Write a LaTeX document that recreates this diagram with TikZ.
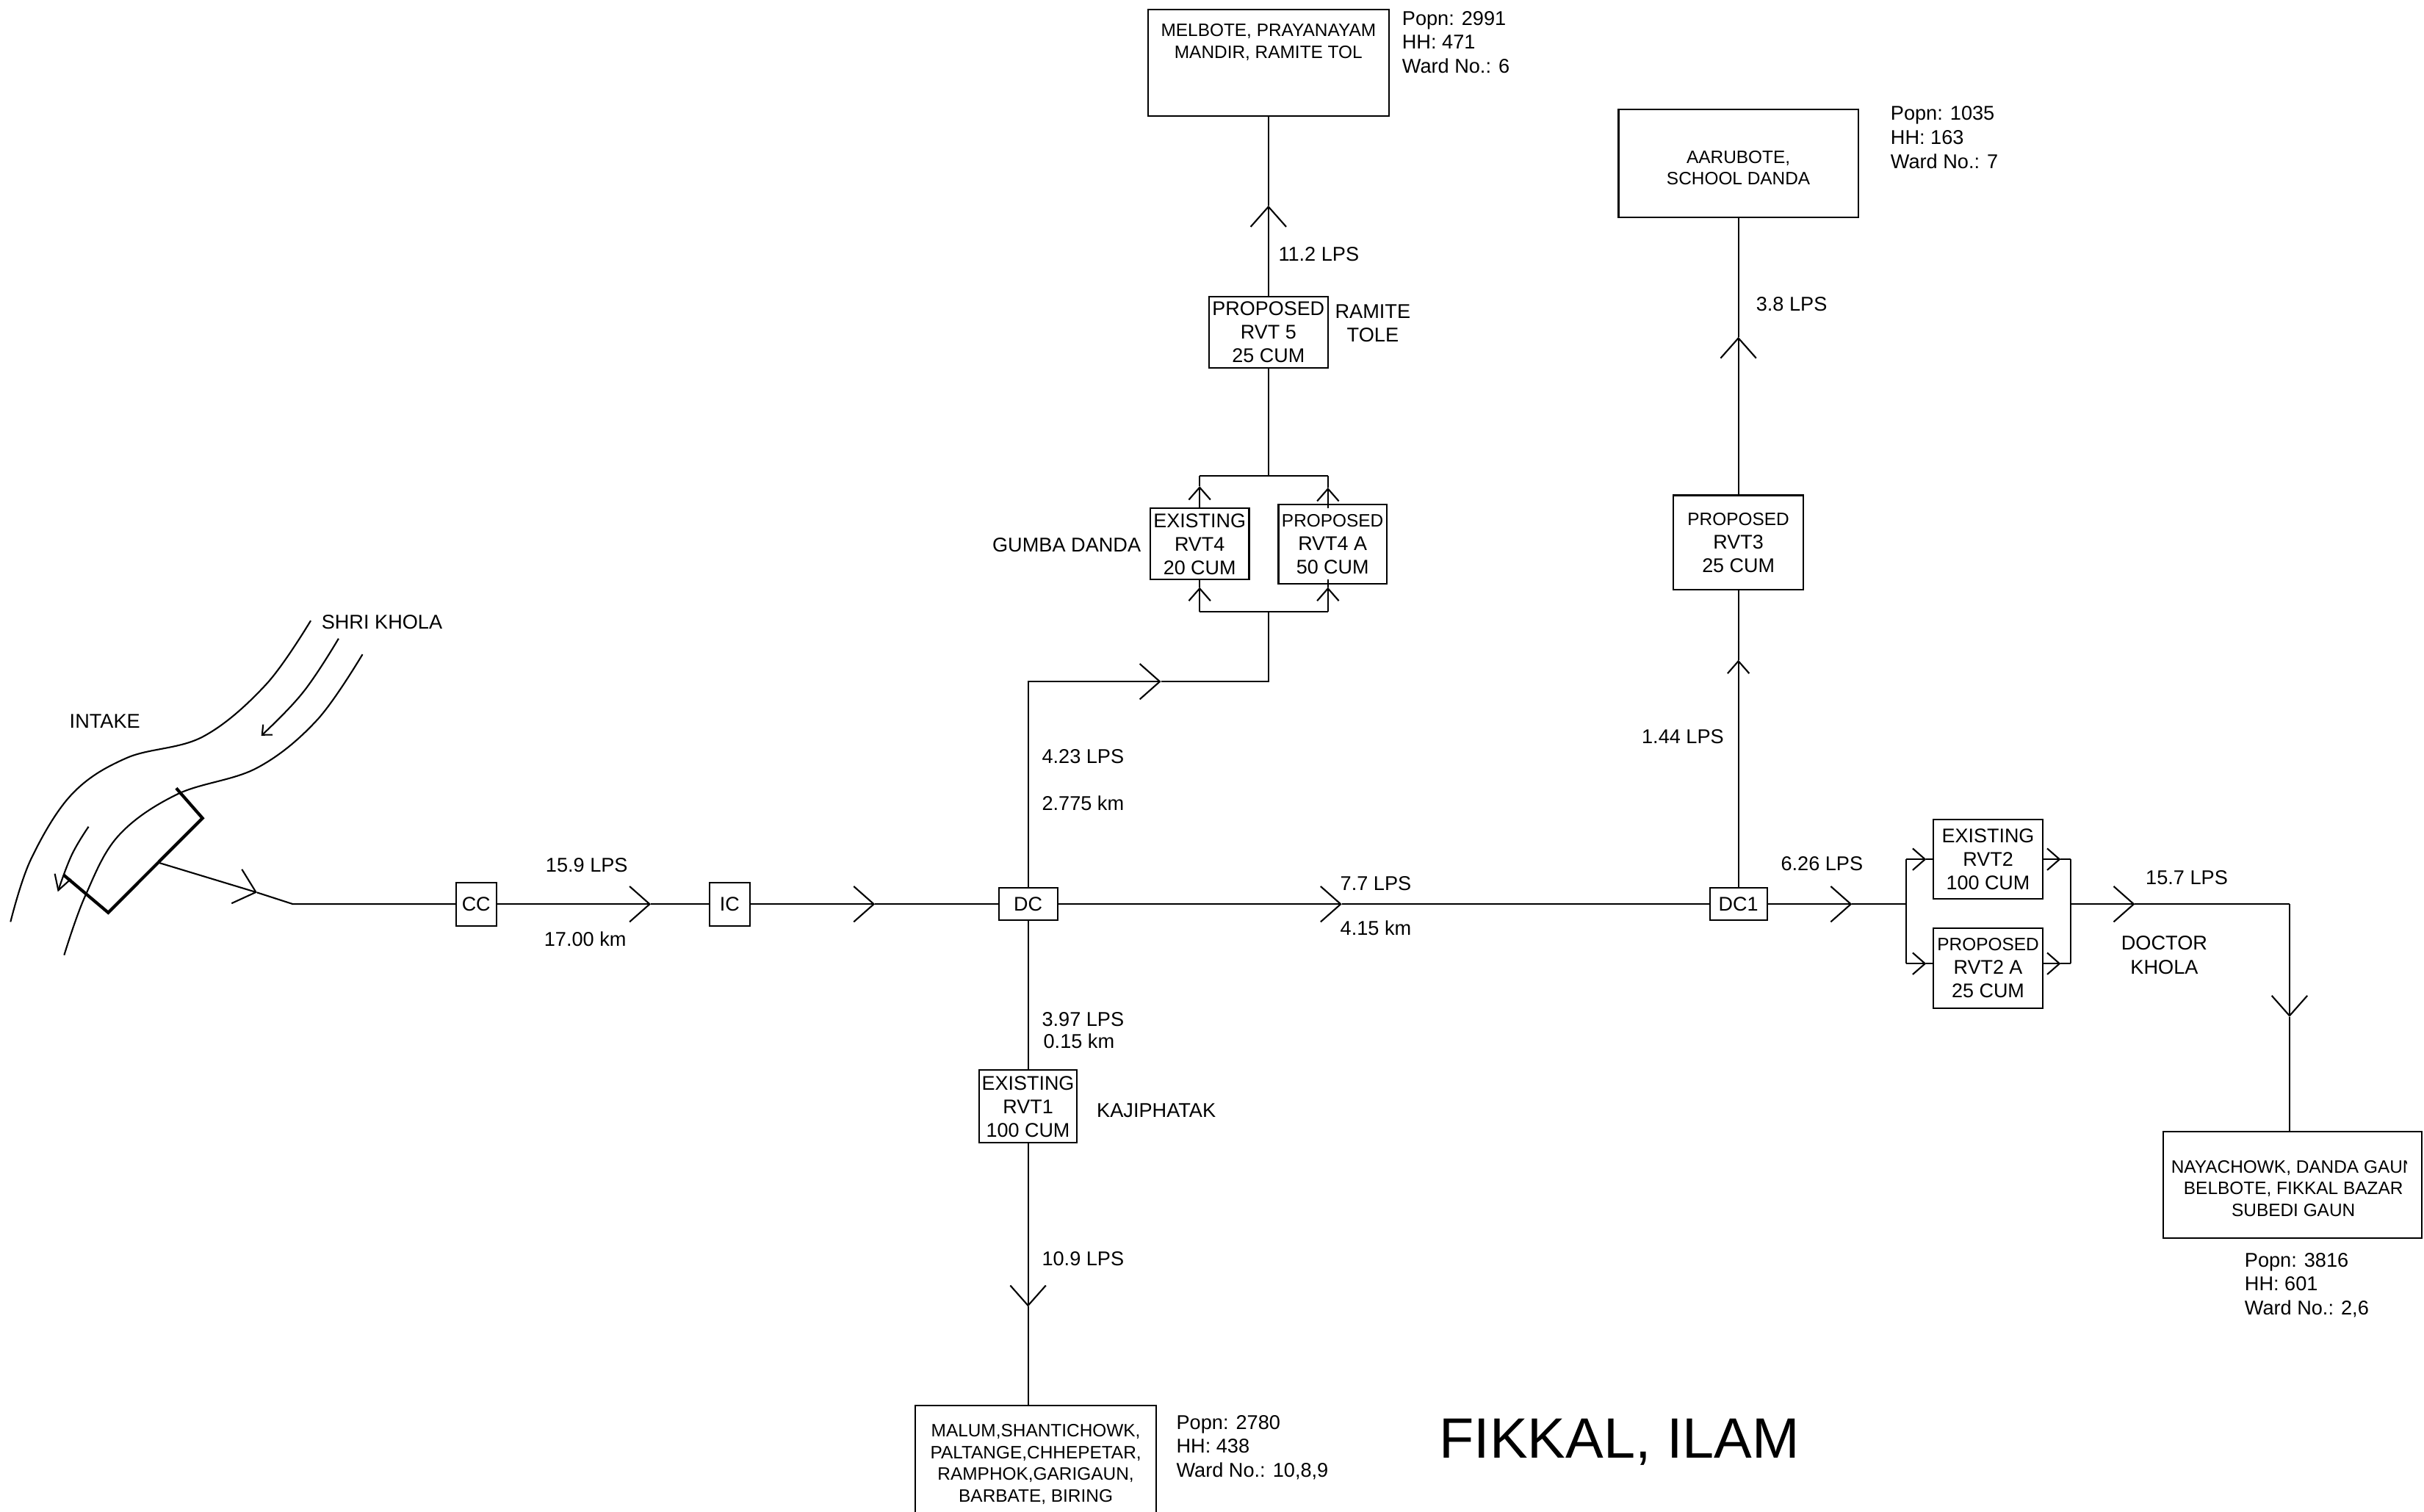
\documentclass[tikz,border=0pt]{standalone}
\usepackage{fontspec}
\setmainfont{Liberation Sans}
\usetikzlibrary{arrows.meta,positioning}

\newcommand{\propsize}{\fontsize{5.8}{7.5}\selectfont}

\begin{document}
\begin{tikzpicture}[
  x=0.5pt, y=-0.5pt,
  every node/.style={outer sep=0pt, inner sep=0pt},
  pipe/.style={line width=0.5pt},
  flow/.style={pipe, -{Straight Barb[length=6.5pt,width=11.5pt,line width=0.5pt]}},
  flowsmall/.style={pipe, -{Straight Barb[length=4pt,width=7pt,line width=0.5pt]}},
  river/.style={line width=0.5pt},
  intake/.style={line width=1pt, line join=miter},
  box/.style={draw, line width=0.5pt, align=center, font=\fontsize{6.4}{7.6}\selectfont},
  chamber/.style={box, minimum height=14pt, minimum width=13pt},
  breakbox/.style={box, minimum height=10.5pt, minimum width=19pt},
  village/.style={box, font=\fontsize{5.8}{7}\selectfont},
  note/.style={align=left, yshift=-0.35pt, font=\fontsize{6.45}{7.8}\selectfont}
]
\useasboundingbox (0,0) rectangle (1568,978);

% main line
\node[chamber] (cc) at (308,585) {CC};
\node[chamber, right=69pt of cc] (ic) {IC};
\node[breakbox, right=80.5pt of ic] (dc) {DC};
\node[breakbox, minimum width=18.5pt, right=211pt of dc] (dcone) {DC1};

% south branch
\node[box, minimum width=31.5pt, minimum height=23.5pt, below=48.5pt of dc] (rvtone) {EXISTING\\RVT1\\100 CUM};
\node[village, minimum width=78pt, minimum height=38pt, below=85pt of rvtone, xshift=2.5pt] (malum) {MALUM,SHANTICHOWK,\\PALTANGE,CHHEPETAR,\\RAMPHOK,GARIGAUN,\\BARBATE, BIRING};

% north branch of DC1
\node[box, minimum width=42pt, minimum height=30.5pt, above=96.5pt of dcone] (rvtthree) {{\propsize PROPOSED}\\RVT3\\25 CUM};
\node[village, minimum width=77.5pt, minimum height=34.75pt, above=90pt of rvtthree] (aarubote) {\rule{0pt}{6.8pt}AARUBOTE,\\SCHOOL DANDA};

% north branch of DC
\node[box, minimum width=32pt, minimum height=23pt] (rvtfour) at (776,352) {EXISTING\\RVT4\\20 CUM};
\node[box, minimum width=35pt, minimum height=25.75pt, right=9.5pt of rvtfour] (rvtfoura) {{\propsize PROPOSED}\\RVT4 A\\50 CUM};
\node[box, minimum width=38.5pt, minimum height=23pt] (rvtfive) at (820.5,215) {PROPOSED\\RVT 5\\25 CUM};
\node[village, minimum width=78pt, minimum height=34.5pt, above=58.5pt of rvtfive] (melbote) {MELBOTE, PRAYANAYAM\\MANDIR, RAMITE TOL\\[7pt]};

% east end
\node[box, minimum width=35.25pt, minimum height=25.75pt] (rvttwo) at (1286,556) {EXISTING\\RVT2\\100 CUM};
\node[box, minimum width=35.25pt, minimum height=25.75pt, below=9.5pt of rvttwo] (rvttwoa) {{\propsize PROPOSED}\\RVT2 A\\25 CUM};
\node[village, minimum width=83.5pt, minimum height=34.5pt] (nayachowk) at (1483,766.5) {};
\begin{scope}
  \clip (1400,740) rectangle (1557,795);
  \node[village, draw=none] (nayatext) at (1483.5,769) {NAYACHOWK, DANDA GAUN\\BELBOTE, FIKKAL BAZAR\\SUBEDI GAUN};
\end{scope}

% junction points and arrow positions
\coordinate (bend) at (189.5,585);
\coordinate (wall) at (103,558.3);
\coordinate (tipa) at (166.3,577.5);
\coordinate (tipb) at (421,585);
\coordinate (tipc) at (566,585);
\coordinate (tipd) at (868,585);
\coordinate (tipe) at (1198,585);
\coordinate (tipf) at (1381,585);
\coordinate (tipg) at (1481,658);
\coordinate (tiph) at (665,845.5);
\coordinate (tipi) at (751,441);
\coordinate (tipj) at (820.5,133);
\coordinate (tipk) at (1124.5,427);
\coordinate (tipl) at (1124.5,218);
\coordinate (fourbus) at (820.5,396);
\coordinate (fourl) at (776,396);
\coordinate (fourr) at (859,396);
\coordinate (fourtop) at (820.5,308);
\coordinate (fivel) at (776,308);
\coordinate (fiver) at (859,308);
\coordinate (lefttop) at (1233,556);
\coordinate (leftmid) at (1233,585);
\coordinate (leftbot) at (1233,623.5);
\coordinate (righttop) at (1339.5,556);
\coordinate (rightmid) at (1339.5,585);
\coordinate (rightbot) at (1339.5,623.5);
\coordinate (corner) at (1481,585);

% river and intake
\draw[river] plot[smooth, tension=.6] coordinates {(201,401.6) (172,443) (131,476.8) (82,490.4) (46.4,514) (20,556) (6.8,596.5)};
\draw[river] plot[smooth, tension=.6] coordinates {(234.5,423.4) (205,466) (166,497) (114.5,514) (76.4,541) (55,580) (41.5,618)};
\draw[river, -{Straight Barb[length=2.5pt,width=4.5pt,line width=0.5pt]}] plot[smooth, tension=.7] coordinates {(219,413.2) (196,448) (169,476)};
\draw[river, -{Straight Barb[length=4.75pt,width=5.5pt,line width=0.5pt]}] plot[smooth, tension=.7] coordinates {(57.3,534.9) (46.4,553.2) (37.4,577)};
\draw[intake] (114,510) -- (131,529.4) -- (70,590.5) -- (41,566);

% connectors
\draw[flow] (wall) -- (tipa);
\draw[pipe] (tipa) -- (bend) -- (cc);
\draw[flow] (cc) -- (tipb);
\draw[pipe] (tipb) -- (ic);
\draw[flow] (ic) -- (tipc);
\draw[pipe] (tipc) -- (dc);
\draw[flow] (dc) -- (tipd);
\draw[pipe] (tipd) -- (dcone);
\draw[flow] (dcone) -- (tipe);
\draw[pipe] (tipe) -- (leftmid);
\draw[pipe] (lefttop) -- (leftbot);
\draw[flowsmall] (lefttop) -- (1246,556);
\draw[pipe] (1246,556) -- (rvttwo.west);
\draw[flowsmall] (leftbot) -- (1246,623.5);
\draw[pipe] (1246,623.5) -- (rvttwoa.west |- leftbot);
\draw[flowsmall] (rvttwo.east) -- (1333,556);
\draw[pipe] (1333,556) -- (righttop);
\draw[flowsmall] (rvttwoa.east |- rightbot) -- (1333,623.5);
\draw[pipe] (1333,623.5) -- (rightbot);
\draw[pipe] (righttop) -- (rightbot);
\draw[flow] (rightmid) -- (tipf);
\draw[pipe] (tipf) -- (corner);
\draw[flow] (corner) -- (tipg);
\draw[pipe] (tipg) -- (nayachowk.north -| corner);
\draw[pipe] (dc) -- (rvtone);
\draw[flow] (rvtone) -- (tiph);
\draw[pipe] (tiph) -- (malum.north -| tiph);
\draw[flowsmall] (dcone) -- (tipk);
\draw[pipe] (tipk) -- (rvtthree);
\draw[flow] (rvtthree) -- (tipl);
\draw[pipe] (tipl) -- (aarubote);
\draw[flow] (dc) |- (tipi);
\draw[pipe] (tipi) -| (fourbus);
\draw[pipe] (fourl) -- (fourr);
\draw[flowsmall] (fourl) -- (776,380);
\draw[pipe] (776,380) -- (rvtfour.south);
\draw[flowsmall] (fourr) -- (859,380);
\draw[pipe] (859,380) -- (859,375);
\draw[flowsmall] (rvtfour.north) -- (776,314.6);
\draw[pipe] (776,314.6) -- (fivel);
\draw[flowsmall] (859,329) -- (859,315.5);
\draw[pipe] (859,315.5) -- (fiver);
\draw[pipe] (fivel) -- (fiver);
\draw[pipe] (fourtop) -- (rvtfive);
\draw[flow] (rvtfive) -- (tipj);
\draw[pipe] (tipj) -- (melbote);

% labels
\node[note, anchor=west] (shri) at (208,402) {SHRI KHOLA};
\node[note, anchor=west] (intakelabel) at (45,466) {INTAKE};
\node[note, anchor=west] (flowa) at (353,559) {15.9 LPS};
\node[note, anchor=west] (lena) at (352,607) {17.00 km};
\node[note, anchor=west] (flowb) at (674,489) {4.23 LPS};
\node[note, anchor=west] (lenb) at (674,519) {2.775 km};
\node[note, anchor=west] (flowc) at (674,659) {3.97 LPS};
\node[note, anchor=west] (lenc) at (675,673) {0.15 km};
\node[note, anchor=west] (flowd) at (674,814) {10.9 LPS};
\node[note, right=6.5pt of rvtone, yshift=-1pt] (kaji) {KAJIPHATAK};
\node[note, anchor=west] (flowe) at (867,571) {7.7 LPS};
\node[note, anchor=west] (lene) at (867,600) {4.15 km};
\node[note, anchor=west] (flowf) at (1062,476) {1.44 LPS};
\node[note, anchor=west] (flowg) at (1136,196) {3.8 LPS};
\node[note, anchor=west] (flowh) at (1152,558) {6.26 LPS};
\node[note, anchor=west] (flowi) at (1388,567) {15.7 LPS};
\node[note, anchor=west] (flowj) at (827,164) {11.2 LPS};
\node[note, align=center] (doctor) at (1400,617.5) {DOCTOR\\KHOLA};
\node[note, align=center] (ramite) at (888,208.5) {RAMITE\\TOLE};
\node[note, anchor=east, left=3pt of rvtfour] (gumba) {GUMBA DANDA};
\node[note, anchor=north west] (popnmel) at (907,6.5) {Popn: 2991\\HH: 471\\Ward No.: 6};
\node[note, anchor=north west] (popnaar) at (1223,68) {Popn: 1035\\HH: 163\\Ward No.: 7};
\node[note, anchor=north west] (popnmal) at (761,915) {Popn: 2780\\HH: 438\\Ward No.: 10,8,9};
\node[note, anchor=north west] (popnnay) at (1452,810) {Popn: 3816\\HH: 601\\Ward No.: 2,6};
\node[font=\fontsize{18.4}{22}\selectfont, anchor=west] (title) at (931,933) {FIKKAL, ILAM};
\end{tikzpicture}
\end{document}
